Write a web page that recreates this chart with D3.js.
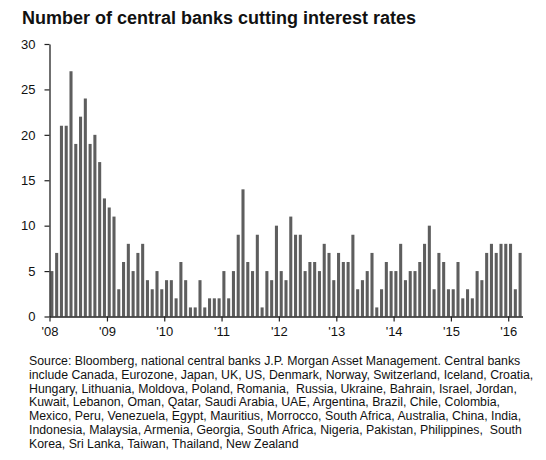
<!DOCTYPE html>
<html>
<head>
<meta charset="utf-8">
<script src="https://cdn.jsdelivr.net/npm/d3@7"></script>
<style>
  body { margin: 0; background: #fff; }
  text { font-family: Arial, "Liberation Sans", sans-serif; }
</style>
</head>
<body>
<div id="chart"></div>
<script>
// Chart data.
var firstMonth = new Date(2008, 0, 1);
var cuts = [
  5, 7, 21, 21, 27, 19, 22, 24, 19, 20, 17, 13,   // 2008
  12, 11, 3, 6, 8, 5, 7, 8, 4, 3, 5, 3,           // 2009
  4, 4, 2, 6, 4, 1, 1, 4, 1, 2, 2, 2,             // 2010
  5, 2, 5, 9, 14, 6, 5, 9, 1, 5, 4, 10,           // 2011
  5, 4, 11, 9, 9, 5, 6, 6, 5, 8, 7, 4,            // 2012
  7, 6, 6, 9, 3, 4, 5, 7, 1, 3, 6, 5,             // 2013
  5, 8, 4, 5, 5, 6, 8, 10, 3, 7, 6, 3,            // 2014
  3, 6, 2, 3, 2, 5, 4, 7, 8, 7, 8, 8,             // 2015
  8, 3, 7                                         // 2016
];
var yTicks = [0, 5, 10, 15, 20, 25, 30];

var title = "Number of central banks cutting interest rates";
var sourceLines = [
  "Source: Bloomberg, national central banks J.P. Morgan Asset Management. Central banks",
  "include Canada, Eurozone, Japan, UK, US, Denmark, Norway, Switzerland, Iceland, Croatia,",
  "Hungary, Lithuania, Moldova, Poland, Romania,  Russia, Ukraine, Bahrain, Israel, Jordan,",
  "Kuwait, Lebanon, Oman, Qatar, Saudi Arabia, UAE, Argentina, Brazil, Chile, Colombia,",
  "Mexico, Peru, Venezuela, Egypt, Mauritius, Morrocco, South Africa, Australia, China, India,",
  "Indonesia, Malaysia, Armenia, Georgia, South Africa, Nigeria, Pakistan, Philippines,  South",
  "Korea, Sri Lanka, Taiwan, Thailand, New Zealand"
];

// Layout parameters.
var svgWidth = 546;
var svgHeight = 460;
var plot = { left: 49.5, right: 522.5, top: 44, bottom: 316.5 };

var months = d3.timeMonth.range(firstMonth, d3.timeMonth.offset(firstMonth, cuts.length));
var data = cuts.map((v, i) => ({ month: months[i], value: v }));

var svg = d3.select("#chart")
  .append("svg")
  .attr("width", svgWidth)
  .attr("height", svgHeight);

// Title.
svg.append("text")
  .attr("x", 22)
  .attr("y", 23.5)
  .attr("font-size", "18px")
  .attr("font-weight", "bold")
  .attr("fill", "#111")
  .text(title);

// Scales.
var xBand = d3.scaleBand()
  .domain(months)
  .range([plot.left, plot.right])
  .paddingInner(0.36)
  .paddingOuter(0.18);

var xTime = d3.scaleTime()
  .domain([firstMonth, d3.timeMonth.offset(firstMonth, cuts.length)])
  .range([plot.left, plot.right]);

var yScale = d3.scaleLinear()
  .domain([0, 30])
  .range([plot.bottom, plot.top]);

// Bars.
svg.append("g")
  .selectAll("rect")
  .data(data)
  .enter()
  .append("rect")
  .attr("x", d => xBand(d.month))
  .attr("width", xBand.bandwidth())
  .attr("y", d => yScale(d.value))
  .attr("height", d => yScale(0) - yScale(d.value))
  .attr("fill", "#5e5e5e");

// Axes.
var leftAxis = d3.axisLeft(yScale)
  .tickValues(yTicks)
  .tickSize(5)
  .tickPadding(9)
  .tickSizeOuter(0);

var bottomAxis = d3.axisBottom(xTime)
  .ticks(d3.timeYear.every(1))
  .tickFormat(d3.timeFormat("'%y"))
  .tickSize(5)
  .tickPadding(5)
  .tickSizeOuter(0);

var yAxisG = svg.append("g")
  .attr("transform", `translate(${plot.left}, 0)`)
  .call(leftAxis);

var xAxisG = svg.append("g")
  .attr("transform", `translate(0, ${plot.bottom})`)
  .call(bottomAxis);

[yAxisG, xAxisG].forEach(g => {
  g.selectAll(".domain").attr("stroke", "#222").attr("stroke-width", 1.3);
  g.selectAll(".tick line").attr("stroke", "#222").attr("stroke-width", 1.2);
  g.selectAll(".tick text")
    .attr("fill", "#111")
    .attr("font-size", "13px")
    .attr("font-family", "Arial, 'Liberation Sans', sans-serif");
});

// Source note.
svg.append("g")
  .selectAll("text")
  .data(sourceLines)
  .enter()
  .append("text")
  .attr("x", 29)
  .attr("y", (d, i) => 365 + i * 13.8)
  .attr("font-size", "12.3px")
  .attr("fill", "#111")
  .attr("xml:space", "preserve")
  .style("white-space", "pre")
  .text(d => d);
</script>
</body>
</html>
